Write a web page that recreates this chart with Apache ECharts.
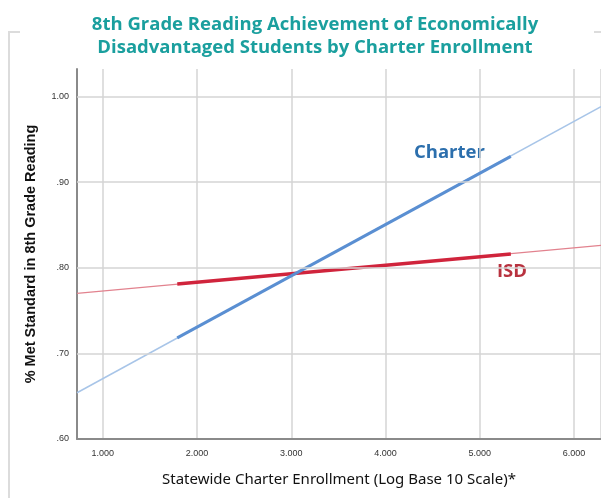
<!DOCTYPE html>
<html>
<head>
<meta charset="utf-8">
<script src="https://cdn.jsdelivr.net/npm/echarts@6/dist/echarts.min.js"></script>
<style>
  html, body { margin: 0; padding: 0; background: #fff; }
  #main { width: 601px; height: 498px; }
</style>
</head>
<body>
<div id="main"></div>
<script>
// axis ranges (log10 charter enrollment / share met standard)
var xRange = [0.726, 6.287];
var yRange = [0.6, 1.032];
var yTicks = [0.6, 0.7, 0.8, 0.9, 1.0];

// fitted lines: thin = full extent, thick = observed data range
var charterThin = [[0.726, 0.654], [6.287, 0.988]];
var charterThick = [[1.79, 0.718], [5.33, 0.930]];
var isdThin = [[0.726, 0.770], [6.287, 0.826]];
var isdThick = [[1.79, 0.781], [5.33, 0.816]];

var myChart = echarts.init(document.getElementById("main"));

var option = {
  animation: false,
  title: {
    text: "8th Grade Reading Achievement of Economically\nDisadvantaged Students by Charter Enrollment",
    left: 310,
    textAlign: "center",
    top: 8,
    textStyle: {
      color: "#1a9f9e",
      fontFamily: "Open Sans",
      fontWeight: "bold",
      fontSize: 18.5,
      lineHeight: 23
    }
  },
  graphic: [
    { type: "line", shape: { x1: 9, y1: 32, x2: 9, y2: 498 }, style: { stroke: "#dcdcdc", lineWidth: 2 } },
    { type: "line", shape: { x1: 8, y1: 32, x2: 20, y2: 32 }, style: { stroke: "#dcdcdc", lineWidth: 2 } },
    { type: "line", shape: { x1: 594, y1: 32, x2: 601, y2: 32 }, style: { stroke: "#dcdcdc", lineWidth: 2 } },
    {
      type: "text", left: 414, top: 143,
      style: { text: "Charter", fill: "#2c6fad", font: "bold 18.5px 'Open Sans'" }
    },
    {
      type: "text", left: 497, top: 262,
      style: { text: "ISD", fill: "#b8323f", font: "bold 18.5px 'Open Sans'" }
    }
  ],
  grid: { left: 77, right: 0, top: 69, bottom: 59 },
  xAxis: {
    type: "value",
    min: xRange[0],
    max: xRange[1],
    splitNumber: 5,
    name: "Statewide Charter Enrollment (Log Base 10 Scale)*",
    nameLocation: "middle",
    nameGap: 33,
    nameTextStyle: { color: "#111", fontFamily: "Noto Sans", fontSize: 15 },
    axisLine: { lineStyle: { color: "#8a8a8a", width: 2 } },
    axisTick: { show: false },
    axisLabel: {
      showMinLabel: false,
      showMaxLabel: false,
      color: "#333",
      fontFamily: "Liberation Sans",
      fontSize: 9,
      margin: 10,
      formatter: function (v) { return v.toFixed(3); }
    },
    splitLine: { lineStyle: { color: "#d4d4d4", width: 1.5 } }
  },
  yAxis: {
    type: "value",
    min: yRange[0],
    max: yRange[1],
    interval: 0.1,
    name: "% Met Standard in 8th Grade Reading",
    nameLocation: "middle",
    nameGap: 39,
    nameTextStyle: { color: "#111", fontFamily: "Liberation Sans", fontWeight: "bold", fontSize: 14.5 },
    axisLine: { show: true, lineStyle: { color: "#8a8a8a", width: 2 } },
    axisTick: { show: false },
    axisLabel: {
      showMaxLabel: false,
      color: "#333",
      fontFamily: "Liberation Sans",
      fontSize: 9,
      margin: 8,
      formatter: function (v) {
        return v >= 1 ? v.toFixed(2) : v.toFixed(2).replace(/^0/, "");
      }
    },
    splitLine: { show: false }
  },
  series: [
    {
      name: "grid",
      type: "line",
      data: [],
      markLine: {
        silent: true,
        symbol: "none",
        label: { show: false },
        lineStyle: { color: "#d4d4d4", width: 1.5, type: "solid" },
        data: yTicks.slice(1).map(function (v) { return { yAxis: v }; })
      }
    },
    {
      name: "ISD fit", type: "line", data: isdThin, symbol: "none",
      lineStyle: { color: "#e2828e", width: 1.2 }
    },
    {
      name: "Charter fit", type: "line", data: charterThin, symbol: "none",
      lineStyle: { color: "#a8c5e8", width: 1.5 }
    },
    {
      name: "ISD", type: "line", data: isdThick, symbol: "none",
      lineStyle: { color: "#d0243c", width: 3.5 }
    },
    {
      name: "Charter", type: "line", data: charterThick, symbol: "none",
      lineStyle: { color: "#5a8fd2", width: 3 }
    }
  ]
};

myChart.setOption(option);
</script>
</body>
</html>
